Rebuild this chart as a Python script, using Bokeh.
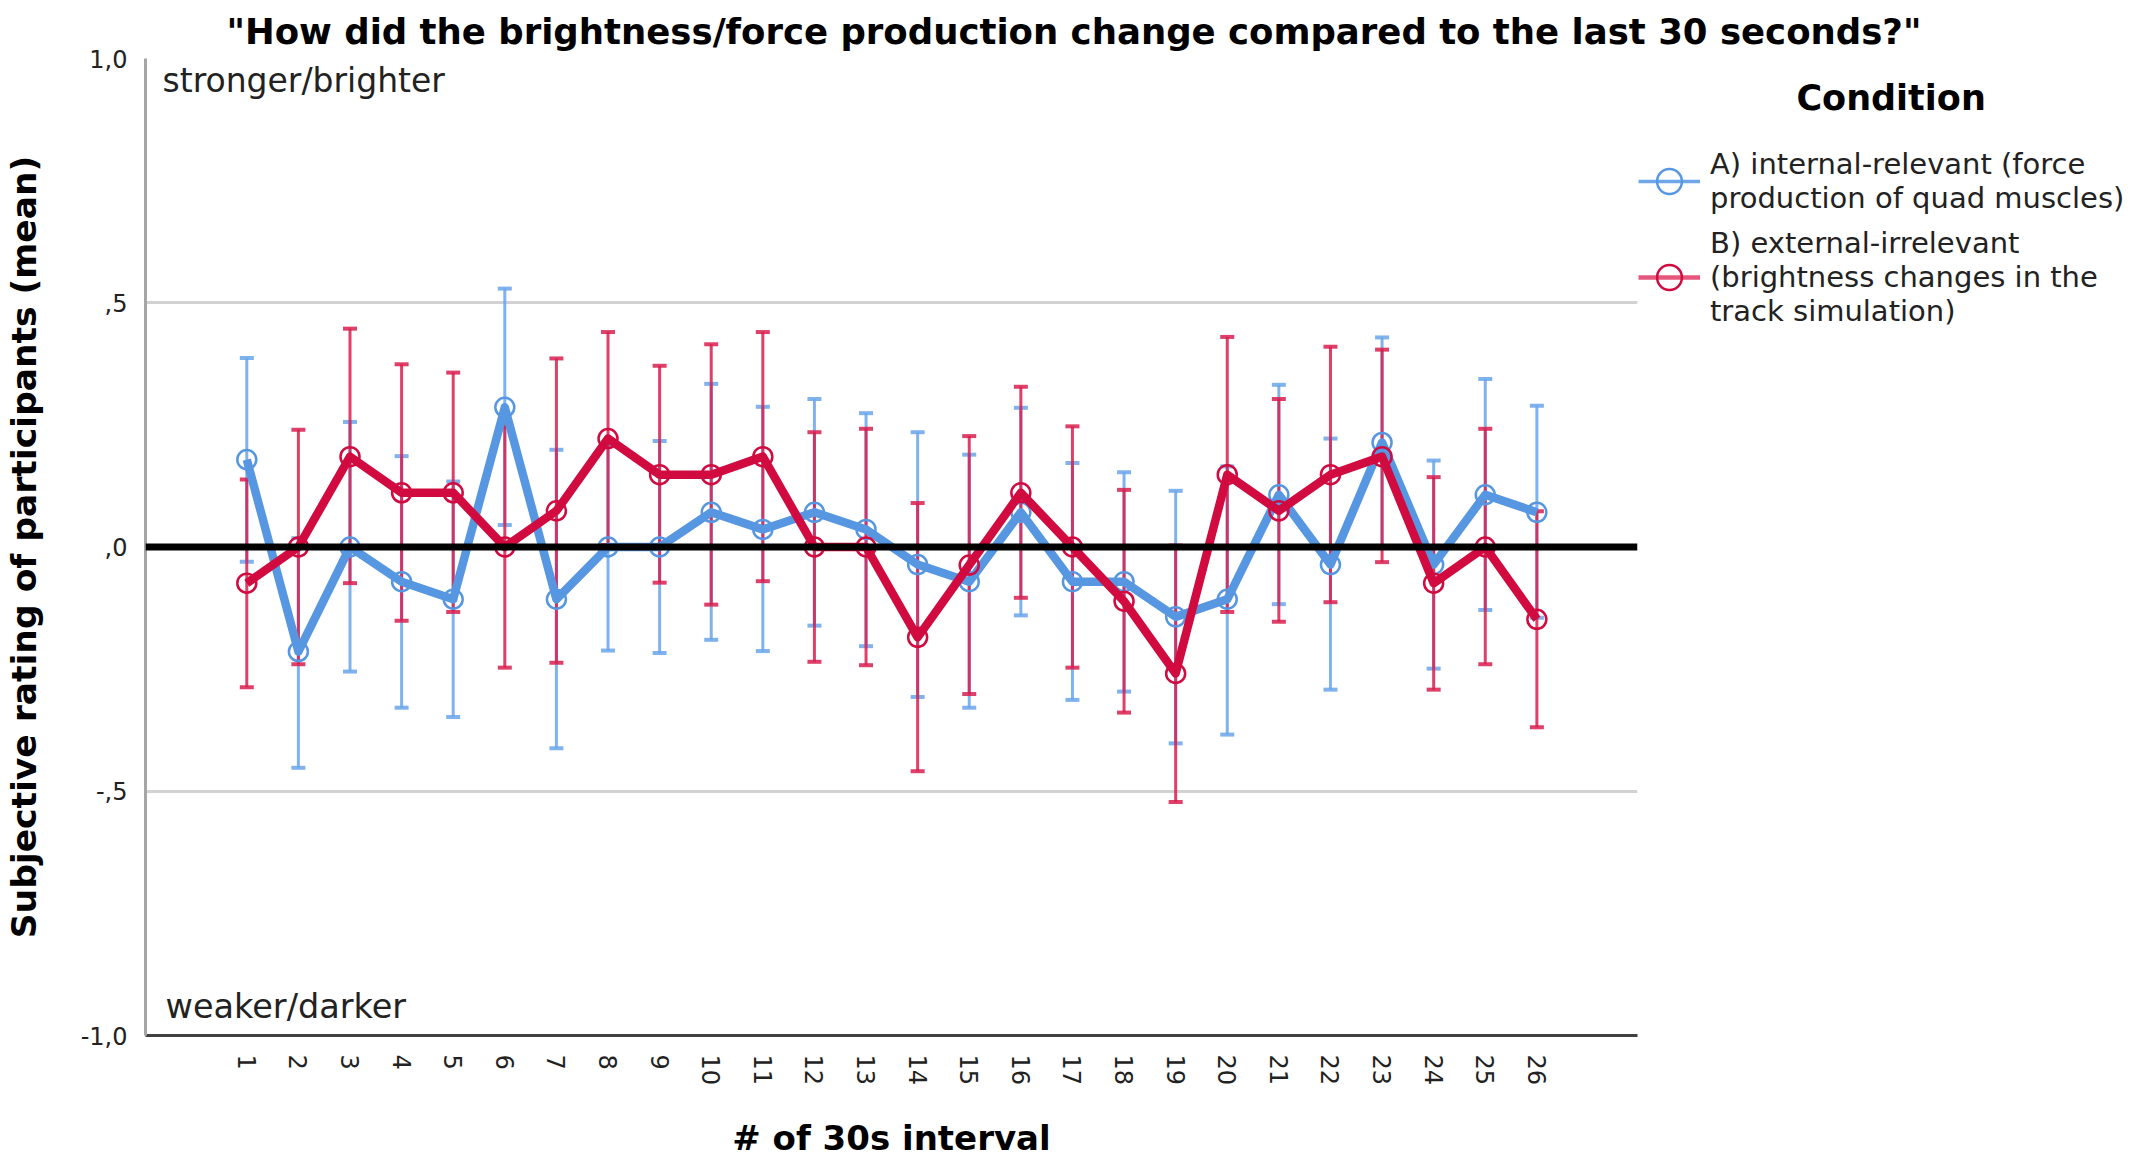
import math
from bokeh.plotting import figure
from bokeh.models import (Range1d, FixedTicker, Whisker, TeeHead, ColumnDataSource,
                          Span, Label, Legend, LegendItem)
from bokeh.embed import file_html
from bokeh.resources import INLINE

# ---------------- data ----------------
intervals = list(range(1, 27))

a_mean = [0.179, -0.214, 0.0, -0.071, -0.107, 0.286, -0.107, 0.0, 0.0, 0.071, 0.036, 0.071, 0.036,
          -0.036, -0.071, 0.071, -0.071, -0.071, -0.143, -0.107, 0.107, -0.036, 0.214, -0.036, 0.107, 0.071]
a_upper = [0.387, 0.018, 0.256, 0.186, 0.134, 0.529, 0.199, 0.210, 0.217, 0.334, 0.287, 0.303, 0.274,
           0.235, 0.189, 0.285, 0.172, 0.153, 0.115, 0.165, 0.332, 0.222, 0.429, 0.177, 0.344, 0.289]
a_lower = [-0.030, -0.452, -0.255, -0.329, -0.348, 0.045, -0.412, -0.212, -0.217, -0.190, -0.213, -0.161, -0.203,
           -0.307, -0.329, -0.140, -0.313, -0.296, -0.402, -0.384, -0.117, -0.292, 0.000, -0.249, -0.129, -0.145]

b_mean = [-0.074, 0.0, 0.185, 0.111, 0.111, 0.0, 0.074, 0.222, 0.148, 0.148, 0.185, 0.0, 0.0,
          -0.185, -0.037, 0.111, 0.0, -0.111, -0.259, 0.148, 0.074, 0.148, 0.185, -0.074, 0.0, -0.148]
b_upper = [0.138, 0.240, 0.447, 0.374, 0.357, 0.247, 0.386, 0.440, 0.371, 0.415, 0.440, 0.235, 0.242,
           0.090, 0.227, 0.328, 0.247, 0.117, 0.003, 0.430, 0.303, 0.410, 0.404, 0.143, 0.242, 0.073]
b_lower = [-0.287, -0.240, -0.074, -0.151, -0.133, -0.247, -0.237, 0.004, -0.073, -0.118, -0.070, -0.235, -0.242,
           -0.459, -0.301, -0.104, -0.247, -0.339, -0.522, -0.133, -0.153, -0.113, -0.031, -0.292, -0.240, -0.369]

y_ticks = [-1.0, -0.5, 0.0, 0.5, 1.0]
y_tick_labels = ["-1,0", "-,5", ",0", ",5", "1,0"]

title_text = '"How did the brightness/force production change compared to the last 30 seconds?"'
legend_title = "Condition"
label_a = "A) internal-relevant (force\nproduction of quad muscles)"
label_b = "B) external-irrelevant\n(brightness changes in the\ntrack simulation)"

# ---------------- styling / layout ----------------
BLUE = "#5797e2"
BLUE_BAR = "#6aa6ea"
RED = "#d10a3f"
RED_BAR = "#d81f4f"
FONT = "DejaVu Sans"

FL, FT, FW, FH = 133, 58, 1492, 977
FR = 2125 - FL - FW
X0, X1 = -0.963, 27.95
PXU = FW / (X1 - X0)


def xd(px):
    return X0 + (px - FL) / PXU


def yd(py):
    return 1.0 - (py - FT) / (FH / 2.0)


p = figure(frame_width=FW, frame_height=FH, min_border_left=FL, min_border_right=FR,
           min_border_top=FT, min_border_bottom=100,
           x_range=Range1d(X0, X1), y_range=Range1d(-1.0, 1.0),
           output_backend="svg", toolbar_location=None)
p.outline_line_color = None
p.background_fill_color = "white"
p.border_fill_color = "white"

# title
p.title.text = title_text
p.title.align = "left"
p.title.offset = 214 - FL
p.title.standoff = 13
p.title.text_font = FONT
p.title.text_font_style = "bold"
p.title.text_font_size = "35.5px"
p.title.text_color = "black"

p.xgrid.visible = False
p.ygrid.ticker = FixedTicker(ticks=[-0.5, 0.5, 1.0])
p.ygrid.grid_line_color = "#d2d2d2"
p.ygrid.grid_line_width = 3

xa = p.xaxis[0]
xa.ticker = FixedTicker(ticks=intervals)
xa.major_tick_line_color = None
xa.minor_tick_line_color = None
xa.major_label_orientation = -math.pi / 2
xa.major_label_text_font = FONT
xa.major_label_text_font_size = "24px"
xa.major_label_text_color = "#222222"
xa.major_label_standoff = 13
xa.axis_line_color = "#404040"
xa.axis_line_width = 3
xa.axis_label = "# of 30s interval"
xa.axis_label_text_font = FONT
xa.axis_label_text_font_style = "bold"
xa.axis_label_text_font_size = "34px"
xa.axis_label_text_color = "black"
xa.axis_label_standoff = 30

ya = p.yaxis[0]
ya.ticker = FixedTicker(ticks=y_ticks)
ya.major_label_overrides = {t: s for t, s in zip(y_ticks, y_tick_labels)}
ya.major_tick_line_color = None
ya.minor_tick_line_color = None
ya.major_label_text_font = FONT
ya.major_label_text_font_size = "24px"
ya.major_label_text_color = "#222222"
ya.major_label_standoff = 12
ya.axis_line_color = "#a6a6a6"
ya.axis_line_width = 3
ya.axis_label = "Subjective rating of participants (mean)"
ya.axis_label_text_font = FONT
ya.axis_label_text_font_style = "bold"
ya.axis_label_text_font_size = "34.5px"
ya.axis_label_text_color = "black"
ya.axis_label_standoff = 34

src_a = ColumnDataSource(dict(x=intervals, y=a_mean, upper=a_upper, lower=a_lower))
src_b = ColumnDataSource(dict(x=intervals, y=b_mean, upper=b_upper, lower=b_lower))

for src, col in ((src_a, BLUE_BAR), (src_b, RED_BAR)):
    w = Whisker(base="x", upper="upper", lower="lower", source=src,
                line_color=col, line_width=3, line_alpha=0.85,
                upper_head=TeeHead(size=14, line_color=col, line_width=4, line_alpha=0.85),
                lower_head=TeeHead(size=14, line_color=col, line_width=4, line_alpha=0.85),
                level="underlay")
    p.add_layout(w)

p.line("x", "y", source=src_a, line_color=BLUE, line_width=8.5, line_join="round")
p.scatter("x", "y", source=src_a, marker="circle", size=19, fill_alpha=0,
          line_color=BLUE, line_width=2.5)
p.line("x", "y", source=src_b, line_color=RED, line_width=8.5, line_join="round")
p.scatter("x", "y", source=src_b, marker="circle", size=19, fill_alpha=0,
          line_color=RED, line_width=2.5)

p.add_layout(Span(location=0, dimension="width", line_color="black", line_width=7))

# legend (dummy renderers kept outside the visible range)
la = p.line(x=[-100], y=[0], line_color="#6ea6e8", line_width=3.5)
sa = p.scatter(x=[-100], y=[0], marker="circle", size=10, fill_alpha=0, line_color=BLUE, line_width=2.5)
lb = p.line(x=[-100], y=[0], line_color="#e5567d", line_width=4.5)
sb = p.scatter(x=[-100], y=[0], marker="circle", size=10, fill_alpha=0, line_color=RED, line_width=2.5)

legend = Legend(items=[LegendItem(label=label_a, renderers=[la, sa]),
                       LegendItem(label=label_b, renderers=[lb, sb])],
                location=(1626 - (FL + FW), 707),
                title="\u00a0" * 13 + legend_title,
                title_text_font=FONT, title_text_font_style="bold", title_text_font_size="35px",
                title_text_color="black", title_standoff=26,
                glyph_width=62, glyph_height=74, label_standoff=10, spacing=8,
                padding=0, margin=0, border_line_alpha=0, background_fill_alpha=0,
                label_text_font=FONT, label_text_font_size="29px", label_text_color="#222222",
                label_text_line_height=1.28)
p.add_layout(legend, "right")

# texts inside the plot area
p.add_layout(Label(x=xd(150), y=yd(80), text="stronger/brighter", text_align="left", text_baseline="middle",
                   text_font=FONT, text_font_size="33px", text_color="#222222"))
p.add_layout(Label(x=xd(153), y=yd(1006), text="weaker/darker", text_align="left", text_baseline="middle",
                   text_font=FONT, text_font_size="33.5px", text_color="#222222"))

open("out.html", "w").write(file_html(p, INLINE))
